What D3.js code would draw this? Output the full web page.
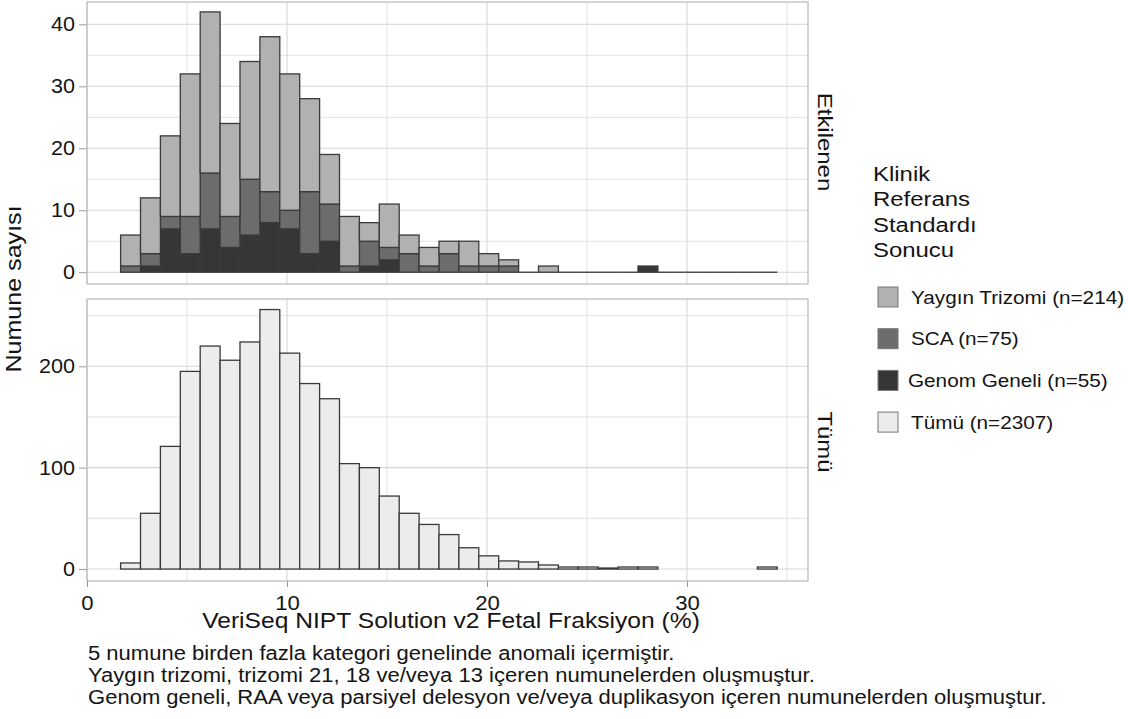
<!DOCTYPE html>
<html>
<head>
<meta charset="utf-8">
<script src="https://cdn.jsdelivr.net/npm/d3@7"></script>
<style>
  body { margin: 0; background: #fff; }
  svg { display: block; font-family: "Liberation Sans", Arial, sans-serif; }
</style>
</head>
<body>
<svg id="chart" width="1128" height="719"></svg>
<script>
// ---- Data (counts per ~1% fetal-fraction bin) ----
const binStart = 1.68;
const binWidth = 0.995;
const yayginTrizomi = [5, 9, 13, 23, 26, 15, 19, 25, 22, 15, 8, 8, 3, 7, 3, 3, 2, 4, 2, 1, 0, 1, 0, 0, 0, 0, 0, 0, 0, 0, 0, 0, 0];
const sca           = [1, 2, 2, 6, 9, 5, 9, 5, 3, 10, 6, 1, 4, 2, 3, 1, 3, 1, 1, 1, 0, 0, 0, 0, 0, 0, 0, 0, 0, 0, 0, 0, 0];
const genomGeneli   = [0, 1, 7, 3, 7, 4, 6, 8, 7, 3, 5, 0, 1, 2, 0, 0, 0, 0, 0, 0, 0, 0, 0, 0, 0, 0, 1, 0, 0, 0, 0, 0, 0];
const tumu          = [6, 55, 121, 195, 220, 206, 224, 256, 213, 183, 168, 104, 100, 72, 55, 44, 34, 21, 13, 8, 7, 4, 2, 2, 1, 2, 2, 0, 0, 0, 0, 0, 2];

const xTicks = [0, 10, 20, 30];
const xMinor = [5, 15, 25, 35];
const topTicks = [0, 10, 20, 30, 40];
const topMinor = [5, 15, 25, 35];
const botTicks = [0, 100, 200];
const botMinor = [50, 150, 250];

const seriesNames = ["Yaygın Trizomi (n=214)", "SCA (n=75)", "Genom Geneli (n=55)", "Tümü (n=2307)"];
const seriesColors = ["#b1b1b1", "#6c6c6c", "#363636", "#ececec"];
const stripLabels = ["Etkilenen", "Tümü"];
const legendTitle = ["Klinik", "Referans", "Standardı", "Sonucu"];
const xTitle = "VeriSeq NIPT Solution v2 Fetal Fraksiyon (%)";
const yTitle = "Numune sayısı";
const notes = [
  "5 numune birden fazla kategori genelinde anomali içermiştir.",
  "Yaygın trizomi, trizomi 21, 18 ve/veya 13 içeren numunelerden oluşmuştur.",
  "Genom geneli, RAA veya parsiyel delesyon ve/veya duplikasyon içeren numunelerden oluşmuştur."
];

// ---- Layout ----
const svg = d3.select("#chart");
const px0 = 87, px1 = 808;
const topPanel = { y0: 2, y1: 284 };
const botPanel = { y0: 299, y1: 581 };

const x = d3.scaleLinear().domain([0, 36.05]).range([px0, px1]);
const yTop = d3.scaleLinear().domain([-1.9, 43.6]).range([topPanel.y1, topPanel.y0]);
const yBot = d3.scaleLinear().domain([-11.8, 266.4]).range([botPanel.y1, botPanel.y0]);

const gridCol = "#d6d6d6";
const borderCol = "#bdbdbd";
const textCol = "#141414";
const barStroke = "#3a3a3a";
const SX = 1.12; // the reference typeface is set a little wider than Liberation Sans

// place a text with horizontal widening along its own direction
function placeText(sel, tx, ty, rot, sx) {
  sel.attr("x", 0).attr("y", 0)
    .attr("transform", `translate(${tx},${ty}) rotate(${rot}) scale(${sx},1)`);
  return sel;
}
function widenTicks(g, sx) {
  g.selectAll("text").each(function () {
    const t = d3.select(this);
    const xv = +t.attr("x") || 0;
    t.attr("x", xv / sx).attr("transform", `scale(${sx},1)`);
  });
}

function drawPanel(panel, y, major, minor) {
  const g = svg.append("g");
  g.append("rect").attr("x", px0).attr("y", panel.y0).attr("width", px1 - px0)
    .attr("height", panel.y1 - panel.y0).attr("fill", "#fff");
  g.selectAll(".hmin").data(minor).join("line")
    .attr("x1", px0).attr("x2", px1).attr("y1", d => y(d)).attr("y2", d => y(d))
    .attr("stroke", "#e2e2e2").attr("stroke-width", 1);
  g.selectAll(".vmin").data(xMinor).join("line")
    .attr("y1", panel.y0).attr("y2", panel.y1).attr("x1", d => x(d)).attr("x2", d => x(d))
    .attr("stroke", "#e2e2e2").attr("stroke-width", 1);
  g.selectAll(".hmaj").data(major).join("line")
    .attr("x1", px0).attr("x2", px1).attr("y1", d => y(d)).attr("y2", d => y(d))
    .attr("stroke", gridCol).attr("stroke-width", 1.1);
  g.selectAll(".vmaj").data(xTicks).join("line")
    .attr("y1", panel.y0).attr("y2", panel.y1).attr("x1", d => x(d)).attr("x2", d => x(d))
    .attr("stroke", gridCol).attr("stroke-width", 1.1);
  const ax = d3.axisLeft(y).tickValues(major).tickSize(8).tickPadding(4).tickFormat(d3.format("d"));
  const ga = svg.append("g").attr("transform", `translate(${px0},0)`).call(ax);
  ga.select(".domain").remove();
  ga.selectAll("line").attr("stroke", "#9a9a9a");
  ga.selectAll("text").attr("font-size", 20).attr("fill", textCol).attr("font-family", "Liberation Sans, Arial, sans-serif");
  widenTicks(ga, 1.08);
  return g;
}

function drawBorder(panel) {
  svg.append("rect").attr("x", px0).attr("y", panel.y0).attr("width", px1 - px0)
    .attr("height", panel.y1 - panel.y0).attr("fill", "none")
    .attr("stroke", borderCol).attr("stroke-width", 1.3);
}

// ---- Top panel: stacked histogram ----
drawPanel(topPanel, yTop, topTicks, topMinor);
const bins = d3.range(yayginTrizomi.length);
const stackData = bins.map(i => ({ i, genom: genomGeneli[i], sca: sca[i], yaygin: yayginTrizomi[i] }));
const layers = d3.stack().keys(["genom", "sca", "yaygin"])(stackData);
const layerColor = { genom: seriesColors[2], sca: seriesColors[1], yaygin: seriesColors[0] };
const gTop = svg.append("g");
layers.forEach(layer => {
  gTop.append("g").selectAll("rect").data(layer.filter(d => d[1] - d[0] > 0)).join("rect")
    .attr("x", d => x(binStart + d.data.i * binWidth))
    .attr("width", d => x(binStart + (d.data.i + 1) * binWidth) - x(binStart + d.data.i * binWidth))
    .attr("y", d => yTop(d[1]))
    .attr("height", d => yTop(d[0]) - yTop(d[1]))
    .attr("fill", layerColor[layer.key])
    .attr("stroke", barStroke).attr("stroke-width", 1.3);
});
gTop.append("g").selectAll("line").data(stackData.filter(d => d.genom + d.sca + d.yaygin === 0)).join("line")
  .attr("x1", d => x(binStart + d.i * binWidth)).attr("x2", d => x(binStart + (d.i + 1) * binWidth))
  .attr("y1", yTop(0)).attr("y2", yTop(0)).attr("stroke", barStroke).attr("stroke-width", 1.3);
drawBorder(topPanel);

// ---- Bottom panel ----
drawPanel(botPanel, yBot, botTicks, botMinor);
const gBot = svg.append("g");
gBot.selectAll("rect").data(bins).join("rect")
  .attr("x", i => x(binStart + i * binWidth))
  .attr("width", i => x(binStart + (i + 1) * binWidth) - x(binStart + i * binWidth))
  .attr("y", i => yBot(tumu[i]))
  .attr("height", i => yBot(0) - yBot(tumu[i]))
  .attr("fill", seriesColors[3])
  .attr("stroke", barStroke).attr("stroke-width", 1.3);
drawBorder(botPanel);

// x axis
const xa = d3.axisBottom(x).tickValues(xTicks).tickSize(6).tickPadding(8).tickFormat(d3.format("d"));
const gx = svg.append("g").attr("transform", `translate(0,${botPanel.y1})`).call(xa);
gx.select(".domain").remove();
gx.selectAll("line").attr("stroke", "#9a9a9a");
gx.selectAll("text").attr("font-size", 20.5).attr("fill", textCol).attr("font-family", "Liberation Sans, Arial, sans-serif");
widenTicks(gx, 1.08);

// axis titles
placeText(svg.append("text"), 451, 628, 0, SX).attr("text-anchor", "middle")
  .attr("font-size", 22).attr("fill", textCol).text(xTitle);
placeText(svg.append("text"), 21, 289, -90, 1.14).attr("text-anchor", "middle")
  .attr("font-size", 22).attr("fill", textCol).text(yTitle);

// strip labels
placeText(svg.append("text"), 818, 142, 90, 1.14)
  .attr("text-anchor", "middle").attr("font-size", 21).attr("fill", textCol).text(stripLabels[0]);
placeText(svg.append("text"), 818, 442, 90, 1.14)
  .attr("text-anchor", "middle").attr("font-size", 21).attr("fill", textCol).text(stripLabels[1]);

// legend
const lg = svg.append("g");
legendTitle.forEach((t, i) => {
  placeText(lg.append("text"), 873, 181 + i * 25.4, 0, 1.14)
    .attr("font-size", 21).attr("fill", textCol).text(t);
});
const items = lg.selectAll("g.item").data(seriesNames).join("g")
  .attr("transform", (d, i) => `translate(878,${297 + i * 41.7})`);
items.append("rect").attr("x", 0).attr("y", -10).attr("width", 20).attr("height", 20)
  .attr("fill", (d, i) => seriesColors[i]).attr("stroke", "#777").attr("stroke-width", 1);
items.each(function (d, i) {
  placeText(d3.select(this).append("text"), i === 2 ? 30 : 33, 6.5, 0, 1.12)
    .attr("font-size", 18.5).attr("fill", textCol).text(d);
});

// notes
notes.forEach((t, i) => {
  placeText(svg.append("text"), 88, 660 + i * 22, 0, 1.13)
    .attr("font-size", 19.5).attr("fill", textCol).text(t);
});
</script>
</body>
</html>
